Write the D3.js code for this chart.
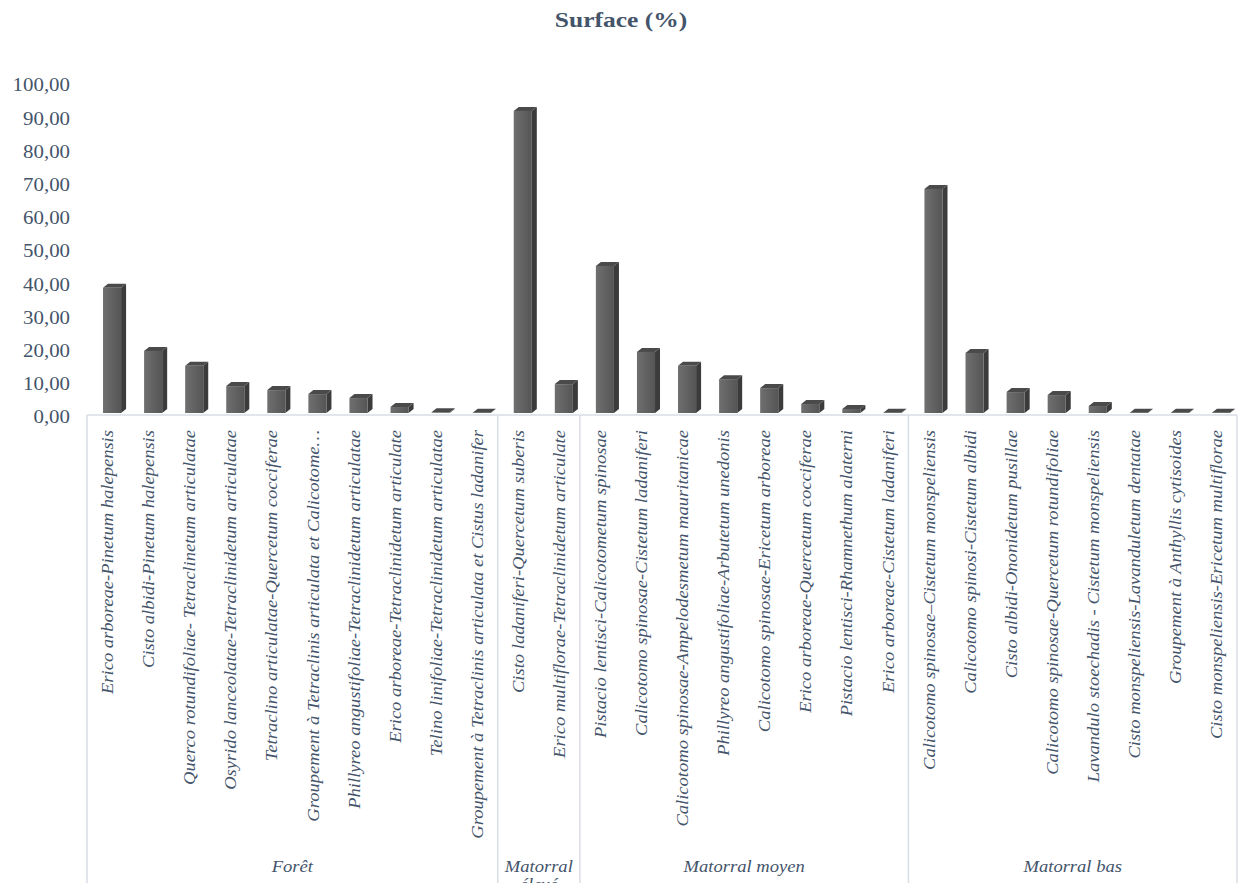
<!DOCTYPE html>
<html>
<head>
<meta charset="utf-8">
<script src="https://cdn.jsdelivr.net/npm/d3@7"></script>
<style>
  html, body { margin: 0; padding: 0; background: #ffffff; }
  svg { display: block; }
</style>
</head>
<body>
<svg id="chart" width="1243" height="883"></svg>
<script>
const title = "Surface (%)";
const categories = [
  "Erico arboreae-Pinetum halepensis",
  "Cisto albidi-Pinetum halepensis",
  "Querco rotundifoliae- Tetraclinetum articulatae",
  "Osyrido lanceolatae-Tetraclinidetum articulatae",
  "Tetraclino articulatae-Quercetum cocciferae",
  "Groupement à Tetraclinis articulata et Calicotome…",
  "Phillyreo angustifoliae-Tetraclinidetum articulatae",
  "Erico arboreae-Tetraclinidetum articulate",
  "Telino linifoliae-Tetraclinidetum articulatae",
  "Groupement à Tetraclinis articulata et Cistus ladanifer",
  "Cisto ladaniferi-Quercetum suberis",
  "Erico multiflorae-Tetraclinidetum articulate",
  "Pistacio lentisci-Calicotometum spinosae",
  "Calicotomo spinosae-Cistetum ladaniferi",
  "Calicotomo spinosae-Ampelodesmetum mauritanicae",
  "Phillyreo angustifoliae-Arbutetum unedonis",
  "Calicotomo spinosae-Ericetum arboreae",
  "Erico arboreae-Quercetum cocciferae",
  "Pistacio lentisci-Rhamnethum alaterni",
  "Erico arboreae-Cistetum ladaniferi",
  "Calicotomo spinosae–Cistetum monspeliensis",
  "Calicotomo spinosi-Cistetum albidi",
  "Cisto albidi-Ononidetum pusillae",
  "Calicotomo spinosae-Quercetum rotundifoliae",
  "Lavandulo stoechadis - Cistetum monspeliensis",
  "Cisto monspeliensis-Lavanduletum dentatae",
  "Groupement à Anthyllis cytisoides",
  "Cisto monspeliensis-Ericetum multiflorae"
];
const values = [
  37.7, 18.7, 14.2, 8.1, 6.9, 5.7, 4.5, 1.8, 0.2, 0.1,
  91.0, 8.7,
  44.3, 18.4, 14.2, 10.2, 7.5, 2.7, 1.2, 0.1,
  67.5, 18.1, 6.3, 5.4, 2.1, 0.1, 0.1, 0.1
];
const groups = ["Forêt", "Matorral élevé", "Matorral moyen", "Matorral bas"];
const groupSizes = [10, 2, 8, 8];
const yTicks = [0, 10, 20, 30, 40, 50, 60, 70, 80, 90, 100];

const svg = d3.select("#chart");
const textColor = "#44546a";
const lineColor = "#d9dde4";
const serif = "'Liberation Serif', 'Times New Roman', serif";
const stretch = 1.16;

const plotLeft = 87, plotRight = 1237, floorY = 415, baseY = 413;

const x = d3.scaleBand().domain(d3.range(categories.length)).range([plotLeft, plotRight]).padding(0);
const y = d3.scaleLinear().domain([0, 100]).range([baseY, baseY - 332]);

// gradient for bar fronts
const defs = svg.append("defs");
const grad = defs.append("linearGradient").attr("id", "front").attr("x1", "0").attr("x2", "1").attr("y1", "0").attr("y2", "0");
grad.append("stop").attr("offset", "0%").attr("stop-color", "#6f6f6f");
grad.append("stop").attr("offset", "100%").attr("stop-color", "#555555");

// title
svg.append("text")
  .attr("transform", `translate(621,27) scale(${stretch},1)`)
  .attr("text-anchor", "middle")
  .attr("font-family", serif)
  .attr("font-weight", "bold")
  .attr("font-size", 22)
  .attr("fill", textColor)
  .text(title);

// y axis labels
const fmt = v => d3.format(".2f")(v).replace(".", ",");
svg.append("g").selectAll("text").data(yTicks).join("text")
  .attr("transform", d => `translate(70,${y(d) + 4}) scale(${stretch},1)`)
  .attr("text-anchor", "end")
  .attr("dy", "0.35em")
  .attr("font-family", serif)
  .attr("font-size", 18)
  .attr("fill", textColor)
  .text(fmt);

// floor / axis line
svg.append("line")
  .attr("x1", plotLeft).attr("x2", plotRight)
  .attr("y1", floorY).attr("y2", floorY)
  .attr("stroke", lineColor).attr("stroke-width", 1.5);

// group boundaries
const bounds = [0];
groupSizes.forEach((s, i) => bounds.push(bounds[i] + s));
const boundX = i => i < categories.length ? x(i) : plotRight;
svg.append("g").selectAll("line").data(bounds).join("line")
  .attr("x1", d => boundX(d)).attr("x2", d => boundX(d))
  .attr("y1", floorY).attr("y2", 883)
  .attr("stroke", lineColor).attr("stroke-width", 1.5);

// bars (3D look)
const bw = x.bandwidth();
const dx = 5, dy = -4;
const bars = svg.append("g").selectAll("g").data(values).join("g");
bars.each(function(v, i) {
  const g = d3.select(this);
  const x0 = x(i) + bw * 0.39;
  const w = bw * 0.44;
  const yt = y(v), yb = y(0);
  // side
  g.append("path")
    .attr("d", `M${x0 + w},${yt} L${x0 + w + dx},${yt + dy} L${x0 + w + dx},${yb + dy} L${x0 + w},${yb} Z`)
    .attr("fill", "#3b3b3b");
  // top
  g.append("path")
    .attr("d", `M${x0},${yt} L${x0 + dx},${yt + dy} L${x0 + w + dx},${yt + dy} L${x0 + w},${yt} Z`)
    .attr("fill", "#4a4a4a");
  // front
  g.append("rect")
    .attr("x", x0).attr("y", yt)
    .attr("width", w).attr("height", Math.max(0, yb - yt))
    .attr("fill", "url(#front)");
});

// category labels (rotated)
svg.append("g").selectAll("text").data(categories).join("text")
  .attr("transform", (d, i) => `translate(${x(i) + bw / 2},430) rotate(-90) scale(${stretch},1)`)
  .attr("text-anchor", "end")
  .attr("dy", "0.35em")
  .attr("font-family", serif)
  .attr("font-style", "italic")
  .attr("font-size", 16)
  .attr("fill", textColor)
  .text(d => d);

// group labels
const gl = svg.append("g").selectAll("text").data(groups).join("text")
  .attr("transform", (d, i) => `translate(${(boundX(bounds[i]) + boundX(bounds[i + 1])) / 2},872) scale(${stretch},1)`)
  .attr("text-anchor", "middle")
  .attr("font-family", serif)
  .attr("font-style", "italic")
  .attr("font-size", 16)
  .attr("fill", textColor);
gl.each(function(d, i) {
  const t = d3.select(this);
  const span = boundX(bounds[i + 1]) - boundX(bounds[i]);
  if (span < 100) {
    const words = d.split(" ");
    t.append("tspan").attr("x", 0).text(words[0]);
    t.append("tspan").attr("x", 0).attr("dy", 18).text(words.slice(1).join(" "));
  } else {
    t.text(d);
  }
});
</script>
</body>
</html>
